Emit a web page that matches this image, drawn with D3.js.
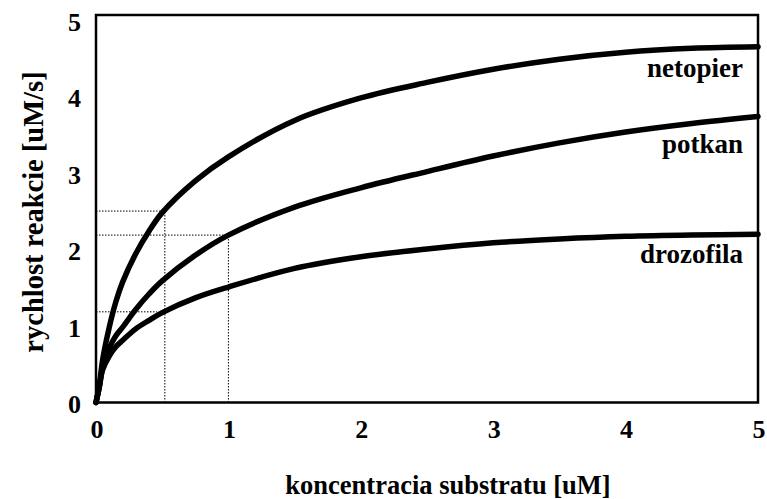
<!DOCTYPE html>
<html>
  <head>
    <meta charset="utf-8">
    <title>rychlost reakcie</title>
    <script src="https://d3js.org/d3.v7.min.js"></script>
    <style>
      body { margin: 0; background: #fff; }
      text { font-family: "Liberation Serif", "DejaVu Serif", serif; font-weight: bold; fill: #000; }
    </style>
  </head>
  <body>

  <script type="text/javascript">
  // substrate concentration [uM]
  var conc = [0, 0.025, 0.05, 0.1, 0.15, 0.2, 0.3, 0.4, 0.5, 0.75, 1, 1.5, 2, 2.5, 3, 3.5, 4, 4.5, 5];
  // reaction rate [uM/s]
  var netopier  = [0, 0.22, 0.55, 0.97, 1.30, 1.55, 1.92, 2.21, 2.45, 2.86, 3.17, 3.64, 3.93, 4.13, 4.30, 4.43, 4.52, 4.57, 4.59];
  var potkan    = [0, 0.20, 0.45, 0.70, 0.86, 0.97, 1.20, 1.40, 1.57, 1.90, 2.16, 2.52, 2.77, 2.98, 3.18, 3.35, 3.49, 3.60, 3.69];
  var drozofila = [0, 0.20, 0.42, 0.60, 0.72, 0.80, 0.95, 1.06, 1.16, 1.35, 1.49, 1.73, 1.88, 1.98, 2.06, 2.11, 2.145, 2.162, 2.17];
  var seriesNames = ['netopier', 'potkan', 'drozofila'];
  var xTicks = [0, 1, 2, 3, 4, 5];
  var yTicks = [0, 1, 2, 3, 4, 5];
  // dotted guide lines [x, y]
  var guides = [[0.52, 2.47], [1.0, 2.16], [0.46, 1.17]];

  var W = 767, H = 499;
  var svg = d3.select('body')
              .append('svg')
              .attr('width', W)
              .attr('height', H);

  var x = d3.scaleLinear().domain([0, 5]).range([96, 758]);
  var y = d3.scaleLinear().domain([0, 5]).range([402.5, 15]);

  /* dotted guides */
  var g = svg.append('g').attr('stroke', '#000').attr('stroke-width', 1)
             .attr('stroke-dasharray', '1.5,1.5').attr('fill', 'none');
  guides.forEach(function(p, i){
    g.append('line').attr('x1', x(0)).attr('x2', x(p[0]))
     .attr('y1', y(p[1])).attr('y2', y(p[1]));
    if (i < 2) {
      g.append('line').attr('x1', x(p[0])).attr('x2', x(p[0]))
       .attr('y1', y(0)).attr('y2', y(p[1]));
    }
  });

  /* curves */
  var line = d3.line()
               .x(function(d, i){ return x(conc[i]); })
               .y(function(d){ return y(d); })
               .curve(d3.curveCatmullRom.alpha(0.5));
  [netopier, potkan, drozofila].forEach(function(s){
    svg.append('path')
       .attr('d', line(s))
       .attr('fill', 'none')
       .attr('stroke', '#000')
       .attr('stroke-width', 5.5)
       .attr('stroke-linecap', 'round');
  });

  /* frame */
  svg.append('rect')
     .attr('x', x(0)).attr('y', y(5))
     .attr('width', x(5) - x(0)).attr('height', y(0) - y(5))
     .attr('fill', 'none').attr('stroke', '#000').attr('stroke-width', 2.5);

  /* tick labels */
  svg.selectAll('.xt').data(xTicks).enter().append('text')
     .attr('class', 'xt')
     .attr('x', function(d){ return x(d) + 1; })
     .attr('y', 438)
     .attr('text-anchor', 'middle')
     .style('font-size', '26px')
     .text(function(d){ return d; });
  svg.selectAll('.yt').data(yTicks).enter().append('text')
     .attr('class', 'yt')
     .attr('x', 81)
     .attr('y', function(d){ return y(d) + 2 + d; })
     .attr('text-anchor', 'end')
     .attr('dy', '0.33em')
     .style('font-size', '26px')
     .text(function(d){ return d; });

  /* series labels */
  var labelY = [77, 153, 263];
  seriesNames.forEach(function(n, i){
    svg.append('text')
       .attr('x', 743).attr('y', labelY[i])
       .attr('text-anchor', 'end')
       .style('font-size', '27px')
       .text(n);
  });

  /* axis titles */
  svg.append('text')
     .attr('x', 448).attr('y', 494)
     .attr('text-anchor', 'middle')
     .style('font-size', '26.5px')
     .text('koncentracia substratu [uM]');
  svg.append('text')
     .attr('transform', 'translate(43,212) rotate(-90)')
     .attr('text-anchor', 'middle')
     .style('font-size', '28.5px')
     .text('rychlost reakcie [uM/s]');
  </script>
  </body>
</html>
